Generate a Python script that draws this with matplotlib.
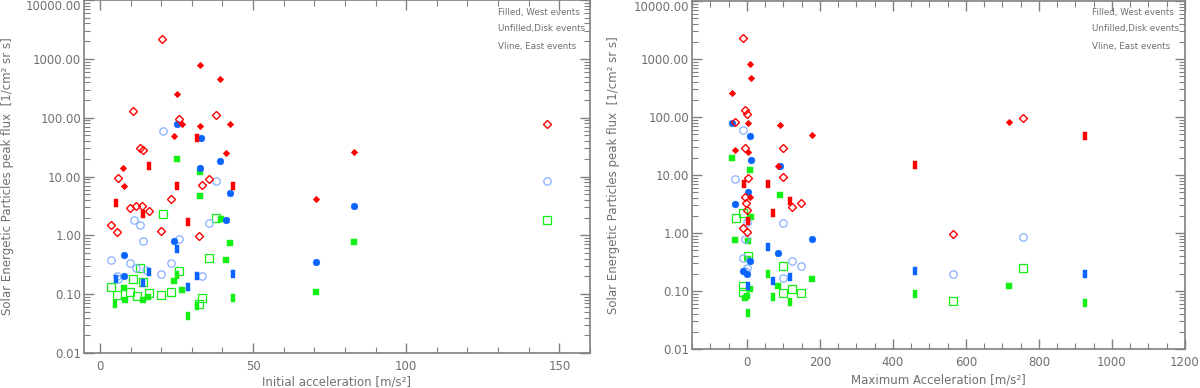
import matplotlib
matplotlib.use("Agg")
import matplotlib.pyplot as plt
from matplotlib.path import Path
from matplotlib.ticker import FixedLocator, LogLocator, FuncFormatter, NullFormatter, MultipleLocator

# ---------------- left panel: initial acceleration ----------------
# red (diamonds)
l_red_w_x = [32.7, 39.2, 25.1, 26.7, 32.7, 42.5, 24.1, 41.2, 7.5, 7.8, 70.5, 83.0]
l_red_w_y = [790, 460, 253, 79, 73, 79, 48, 25, 14, 6.8, 4.1, 26.6]
l_red_d_x = [20.3, 10.9, 25.9, 37.9, 13.0, 14.1, 5.9, 33.3, 35.6, 9.8, 11.8, 13.7, 16.0, 23.2, 3.6, 5.6, 19.8, 32.4, 146.0]
l_red_d_y = [2190, 131, 96, 112, 30, 28, 9.3, 7.3, 8.9, 2.9, 3.2, 3.2, 2.55, 4.1, 1.5, 1.12, 1.17, 0.96, 79]
l_red_e_x = [31.8, 16.0, 25.1, 43.4, 5.2, 14.1, 28.6]
l_red_e_y = [46, 14.8, 6.8, 7.0, 3.5, 2.3, 1.66]
# blue (circles)
l_blu_w_x = [25.1, 33.0, 39.2, 32.7, 42.5, 41.2, 24.1, 7.8, 7.8, 70.5, 83.0]
l_blu_w_y = [79, 46, 18, 14, 5.2, 1.8, 0.8, 0.46, 0.2, 0.35, 3.2]
l_blu_d_x = [20.5, 37.9, 11.1, 13.0, 35.5, 14.1, 25.9, 3.6, 9.8, 11.8, 15.0, 19.8, 23.2, 5.6, 5.9, 33.3, 146.0]
l_blu_d_y = [60, 8.3, 1.8, 1.5, 1.6, 0.8, 0.85, 0.38, 0.34, 0.28, 0.26, 0.22, 0.34, 0.2, 0.18, 0.2, 8.3]
l_blu_e_x = [25.1, 16.0, 43.4, 5.2, 14.1, 31.8, 28.6]
l_blu_e_y = [0.58, 0.235, 0.22, 0.18, 0.155, 0.2, 0.13]
# green (squares)
l_grn_w_x = [25.1, 32.7, 32.7, 39.5, 42.5, 41.2, 24.1, 26.7, 7.8, 8.1, 14.1, 15.8, 70.5, 83.0]
l_grn_w_y = [20, 12, 4.6, 1.9, 0.73, 0.38, 0.166, 0.117, 0.126, 0.079, 0.079, 0.089, 0.108, 0.76]
l_grn_d_x = [20.5, 37.9, 13.0, 25.9, 35.5, 10.8, 14.1, 3.6, 5.6, 9.8, 12.0, 16.0, 19.8, 23.2, 33.3, 32.4, 146.0]
l_grn_d_y = [2.35, 2.0, 0.28, 0.25, 0.41, 0.18, 0.16, 0.13, 0.096, 0.108, 0.093, 0.104, 0.096, 0.108, 0.085, 0.068, 1.8]
l_grn_e_x = [5.0, 25.1, 28.6, 31.8, 43.4]
l_grn_e_y = [0.068, 0.21, 0.043, 0.063, 0.085]

# ---------------- right panel: maximum acceleration ----------------
r_red_w_x = [8, 11, -41, 3, 90, 178, -33, 3, 85, 8, 718]
r_red_w_y = [820, 470, 260, 79, 73, 49, 27, 25, 14.3, 4.2, 82]
r_red_d_x = [-11, -5, 0, -33, -5, 99, 3, 99, -5, -3, 0, 123, 148, -11, 0, 565, 756]
r_red_d_y = [2300, 132, 112, 82, 29, 29, 8.9, 9.2, 4.2, 3.3, 2.5, 2.8, 3.3, 1.22, 1.04, 0.96, 96]
r_red_e_x = [-8, 58, 118, 71, 3, 460, 926]
r_red_e_y = [7.0, 7.0, 3.6, 2.2, 1.6, 15, 47]
r_blu_w_x = [-41, 8, 11, 90, 3, -33, 178, 85, 8, 0, -11]
r_blu_w_y = [79, 47, 18, 14.3, 5.1, 3.2, 0.79, 0.45, 0.33, 0.2, 0.22]
r_blu_d_x = [-11, -33, 0, 99, -5, -11, 123, 148, -5, 0, 99, 756, 565]
r_blu_d_y = [60, 8.5, 1.55, 1.5, 0.79, 0.37, 0.33, 0.27, 0.22, 0.25, 0.17, 0.85, 0.2]
r_blu_e_x = [58, 71, 118, 3, 460, 926]
r_blu_e_y = [0.57, 0.15, 0.175, 0.12, 0.22, 0.2]
r_grn_w_x = [-41, 8, 90, 11, -33, 3, 3, 8, 85, 178, 0, -5, 718]
r_grn_w_y = [20, 12, 4.5, 1.9, 0.76, 0.73, 0.36, 0.108, 0.12, 0.16, 0.082, 0.076, 0.12]
r_grn_d_x = [-30, -11, 3, 99, -11, -11, 123, 148, 99, 756, 565]
r_grn_d_y = [1.8, 2.2, 0.40, 0.27, 0.12, 0.096, 0.108, 0.093, 0.093, 0.25, 0.067]
r_grn_e_x = [58, 71, 118, 3, 460, 926]
r_grn_e_y = [0.2, 0.079, 0.065, 0.042, 0.089, 0.062]

y_ticks = [0.01, 0.1, 1, 10, 100, 1000, 10000]
legend_lines = ["Filled, West events", "Unfilled,Disk events", "Vline, East events"]

RED = "#ff0000"
BLUE = "#0a64ff"
LBLUE = "#88b0ff"
GREEN = "#14f014"
GRAY = "#808080"
TXT = "#707070"

# vertical bar marker for east events
vline = Path([(-0.27, -0.5), (0.27, -0.5), (0.27, 0.5), (-0.27, 0.5), (-0.27, -0.5)],
             [Path.MOVETO, Path.LINETO, Path.LINETO, Path.LINETO, Path.CLOSEPOLY])


def draw(ax, d):
    (rwx, rwy, rdx, rdy, rex, rey, bwx, bwy, bdx, bdy, bex, bey,
     gwx, gwy, gdx, gdy, gex, gey) = d
    # green
    ax.plot(gdx, gdy, 's', ms=5.6, mfc='none', mec=GREEN, mew=0.9, ls='none')
    ax.plot(gwx, gwy, 's', ms=4.8, mfc=GREEN, mec=GREEN, mew=0.3, ls='none')
    ax.plot(gex, gey, marker=vline, ms=5.4, mfc=GREEN, mec=GREEN, mew=0.3, ls='none')
    # blue
    ax.plot(bdx, bdy, 'o', ms=5.3, mfc='none', mec=LBLUE, mew=0.9, ls='none')
    ax.plot(bwx, bwy, 'o', ms=4.9, mfc=BLUE, mec=BLUE, mew=0.3, ls='none')
    ax.plot(bex, bey, marker=vline, ms=5.4, mfc=BLUE, mec=BLUE, mew=0.3, ls='none')
    # red
    ax.plot(rdx, rdy, 'D', ms=3.6, mfc='none', mec=RED, mew=1.0, ls='none')
    ax.plot(rwx, rwy, 'D', ms=3.1, mfc=RED, mec=RED, mew=0.6, ls='none')
    ax.plot(rex, rey, marker=vline, ms=5.4, mfc=RED, mec=RED, mew=0.3, ls='none')

    ax.set_yscale('log')
    ax.set_ylim(0.01, 10000)
    ax.yaxis.set_major_locator(FixedLocator(y_ticks))
    ax.yaxis.set_minor_locator(LogLocator(base=10, subs=range(2, 10), numticks=20))
    ax.yaxis.set_major_formatter(FuncFormatter(lambda v, p: "%.2f" % v))
    ax.yaxis.set_minor_formatter(NullFormatter())
    for s in ax.spines.values():
        s.set_color(GRAY)
        s.set_linewidth(1.2)
    ax.tick_params(which='both', direction='in', top=True, right=True, colors=GRAY,
                   labelcolor=TXT, labelsize=8.5)
    ax.tick_params(which='major', length=7, width=1.0)
    ax.tick_params(which='minor', length=4, width=0.8)
    ax.tick_params(axis='y', pad=2)
    ax.tick_params(axis='x', pad=5)


fig = plt.figure(figsize=(12, 3.88), dpi=100)

ax1 = fig.add_axes([84 / 1200, 1 - 353 / 388, 506 / 1200, 353 / 388])
draw(ax1, (l_red_w_x, l_red_w_y, l_red_d_x, l_red_d_y, l_red_e_x, l_red_e_y,
           l_blu_w_x, l_blu_w_y, l_blu_d_x, l_blu_d_y, l_blu_e_x, l_blu_e_y,
           l_grn_w_x, l_grn_w_y, l_grn_d_x, l_grn_d_y, l_grn_e_x, l_grn_e_y))
ax1.set_xlim(-5.2, 160)
ax1.xaxis.set_major_locator(FixedLocator([0, 50, 100, 150]))
ax1.xaxis.set_minor_locator(MultipleLocator(10))

ax2 = fig.add_axes([692 / 1200, 1 - 349 / 388, 493 / 1200, 348 / 388])
draw(ax2, (r_red_w_x, r_red_w_y, r_red_d_x, r_red_d_y, r_red_e_x, r_red_e_y,
           r_blu_w_x, r_blu_w_y, r_blu_d_x, r_blu_d_y, r_blu_e_x, r_blu_e_y,
           r_grn_w_x, r_grn_w_y, r_grn_d_x, r_grn_d_y, r_grn_e_x, r_grn_e_y))
ax2.set_xlim(-150, 1200)
ax2.xaxis.set_major_locator(MultipleLocator(200))
ax2.xaxis.set_minor_locator(MultipleLocator(50))

# top label sits just below the frame edge, as in the original
for ax in (ax1, ax2):
    ax.get_yticklabels()[-1].set_va('top')

ylab = "Solar Energetic Particles peak flux  [1/cm² sr s]"
fig.text(8 / 1200, 1 - 176 / 388, ylab, rotation=90, ha='center', va='center', fontsize=8.5, color=TXT)
fig.text(613 / 1200, 1 - 175 / 388, ylab, rotation=90, ha='center', va='center', fontsize=8.5, color=TXT)
fig.text(337 / 1200, 1 - 382 / 388, "Initial acceleration [m/s²]", ha='center', va='center', fontsize=8.5, color=TXT)
fig.text(938 / 1200, 1 - 380 / 388, "Maximum Acceleration [m/s²]", ha='center', va='center', fontsize=8.5, color=TXT)

for x0 in (498, 1092):
    for t, yy in zip(legend_lines, (12, 28, 46)):
        fig.text(x0 / 1200, 1 - yy / 388, t, ha='left', va='center', fontsize=6.3, color=TXT)

fig.savefig("out.png", dpi=100, facecolor='white')
